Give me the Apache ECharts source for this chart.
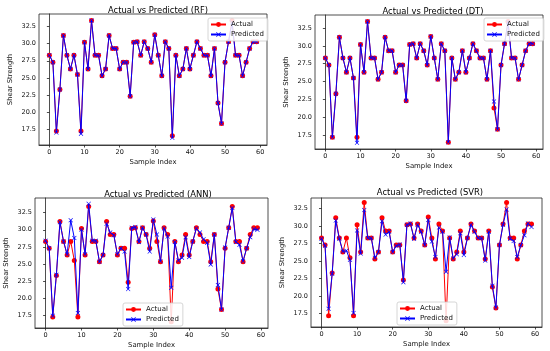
<!DOCTYPE html>
<html><head><meta charset="utf-8">
<script src="https://cdn.jsdelivr.net/npm/echarts@6/dist/echarts.min.js"></script>
<style>html,body{margin:0;padding:0;background:#fff}#c{width:550px;height:351px}</style>
</head><body><div id="c"></div>
<script>
const actual = [28.3,27.3,17.2,23.3,31.2,28.3,26.3,28.3,25.5,17.2,
  30.2,26.3,33.4,28.3,28.3,25.3,26.3,31.2,29.3,29.3,
  26.3,27.3,27.3,22.3,30.2,30.3,28.3,30.3,29.3,27.3,
  31.3,28.3,25.3,30.3,29.3,16.5,28.3,25.3,26.3,29.3,
  26.3,28.3,30.3,29.3,28.3,28.3,25.3,29.3,21.3,18.3,
  27.3,30.3,33.4,28.3,28.3,25.3,27.3,29.3,30.3,30.3];
const predRF = [28.3,27.3,17.0,23.3,31.2,28.3,26.3,28.3,25.5,16.8,
  30.2,26.3,33.4,28.3,28.3,25.3,26.3,31.2,29.3,29.3,
  26.3,27.3,27.3,22.3,30.2,30.3,28.3,30.3,29.3,27.3,
  31.3,28.3,25.3,30.3,29.3,16.2,28.3,25.3,26.3,29.3,
  26.3,28.3,30.3,29.3,28.3,28.3,25.3,29.3,21.3,18.3,
  27.3,30.3,33.1,28.3,28.3,25.3,27.3,29.3,30.3,30.3];
const predDT = [28.3,27.3,17.2,23.3,31.2,28.3,26.3,28.3,25.5,16.4,
  30.2,26.3,33.4,28.3,28.3,25.3,26.3,31.2,29.3,29.3,
  26.3,27.3,27.3,22.3,30.2,30.3,28.3,30.3,29.3,27.3,
  31.3,28.3,25.3,30.3,29.3,16.5,28.3,25.3,26.3,29.3,
  26.3,28.3,30.3,29.3,28.3,28.3,25.3,29.3,22.2,18.3,
  27.3,30.3,33.3,28.3,28.3,25.3,27.3,29.3,30.3,30.3];
const predANN = [28.4,27.3,17.4,23.4,31.1,28.3,26.4,31.4,28.8,17.8,
  30.0,26.4,33.8,28.4,28.4,25.3,26.3,30.9,29.6,29.2,
  26.4,27.3,26.8,21.3,30.3,30.4,28.2,30.3,29.3,26.8,
  31.5,29.3,25.4,30.2,29.0,21.5,28.2,25.5,25.9,28.9,
  26.0,28.3,30.2,29.6,28.6,28.1,24.9,29.3,21.9,18.3,
  27.4,30.3,33.2,28.2,27.8,25.4,27.3,28.9,30.1,30.0];
const predSVR = [28.2,27.2,18.2,23.2,30.8,28.2,26.4,26.5,25.2,17.6,
  29.4,26.1,32.3,28.3,28.3,25.5,26.3,30.7,28.8,29.2,
  26.3,27.2,27.4,22.0,30.2,30.4,28.2,30.2,29.2,27.3,
  30.9,27.8,25.6,29.8,29.2,23.5,28.4,25.4,26.0,29.0,
  25.9,28.3,30.2,29.2,28.3,28.3,25.1,29.2,21.5,18.4,
  27.3,30.2,32.4,28.2,27.9,25.6,27.3,28.7,30.4,29.9];
const xTicks = [0,10,20,30,40,50,60];
const yTicks = [17.5,20.0,22.5,25.0,27.5,30.0,32.5];
const titles = ['Actual vs Predicted (RF)','Actual vs Predicted (DT)','Actual vs Predicted (ANN)','Actual vs Predicted (SVR)'];
const preds = [predRF, predDT, predANN, predSVR];

const grids = [
  {left:39, top:14, width:228, height:131},
  {left:315, top:15, width:228, height:134},
  {left:35, top:198, width:233, height:130},
  {left:311, top:198, width:231, height:129}
];
const yRanges = [[15.15,34.36],[15.54,34.32],[15.6,34.66],[15.6,34.03]];
const titlePos = [[153,2],[428,3],[153,186],[425,184]];
const legendPos = [[208,18],[484,18],[123,303],[397,302]];
const FONT = 'DejaVu Sans';
const xSym = 'path://M0,1L1,0L5,4L9,0L10,1L6,5L10,9L9,10L5,6L1,10L0,9L4,5Z';
const pair = arr => arr.map((v,i)=>[i,v]);

const option = {animation:false, backgroundColor:'#fff',
  title:[], grid:[], xAxis:[], yAxis:[], series:[], legend:[]};
for (let k=0;k<4;k++){
  const g = grids[k];
  option.title.push({text:titles[k], left:titlePos[k][0], top:titlePos[k][1], textAlign:'center',
    textStyle:{fontFamily:FONT, fontSize:8.4, fontWeight:'normal', color:'#000'}});
  option.grid.push({left:g.left, top:g.top, width:g.width, height:g.height, show:true,
    borderColor:'#222', borderWidth:0.8, backgroundColor:'transparent'});
  option.xAxis.push({type:'value', gridIndex:k, min:-2.95, max:61.95,
    name:'Sample Index', nameLocation:'middle', nameGap:14,
    nameTextStyle:{fontFamily:FONT, fontSize:6.9, color:'#111'},
    axisLine:{show:true, lineStyle:{color:'#222', width:0.8}},
    axisTick:{show:true, length:2.5, customValues:xTicks, lineStyle:{color:'#222', width:0.8}},
    axisLabel:{customValues:xTicks, fontFamily:FONT, fontSize:6.5, color:'#111', margin:4},
    splitLine:{show:false}});
  option.yAxis.push({type:'value', gridIndex:k, min:yRanges[k][0], max:yRanges[k][1],
    name:'Shear Strength', nameLocation:'middle', nameGap:25,
    nameTextStyle:{fontFamily:FONT, fontSize:6.8, color:'#111'},
    axisLine:{show:true, lineStyle:{color:'#222', width:0.8}},
    axisTick:{show:true, length:2.5, customValues:yTicks, lineStyle:{color:'#222', width:0.8}},
    axisLabel:{customValues:yTicks, fontFamily:FONT, fontSize:6.5, color:'#111', margin:3,
      formatter:v=>v.toFixed(1)},
    splitLine:{show:false}});
  option.series.push({type:'line', name:'Actual', xAxisIndex:k, yAxisIndex:k, data:pair(actual),
    symbol:'circle', symbolSize:5, showAllSymbol:true,
    lineStyle:{color:'#ff0000', width:1}, itemStyle:{color:'#ff0000'}, z:2});
  option.series.push({type:'line', name:'Predicted', xAxisIndex:k, yAxisIndex:k, data:pair(preds[k]),
    symbol:xSym, symbolSize:4.5, showAllSymbol:true,
    lineStyle:{color:'#0000ff', width:1}, itemStyle:{color:'#0000ff'}, z:3});
  option.legend.push({left:legendPos[k][0], top:legendPos[k][1], orient:'vertical',
    data:['Actual','Predicted'], itemWidth:15, itemHeight:6, itemGap:3, padding:[3,4,3,2],
    backgroundColor:'rgba(255,255,255,0.85)', borderColor:'#ccc', borderWidth:0.8, borderRadius:2,
    textStyle:{fontFamily:FONT, fontSize:7, color:'#111'}, selectedMode:false, z:10});
}
const chart = echarts.init(document.getElementById('c'), null, {renderer:'canvas'});
chart.setOption(option);
</script></body></html>
